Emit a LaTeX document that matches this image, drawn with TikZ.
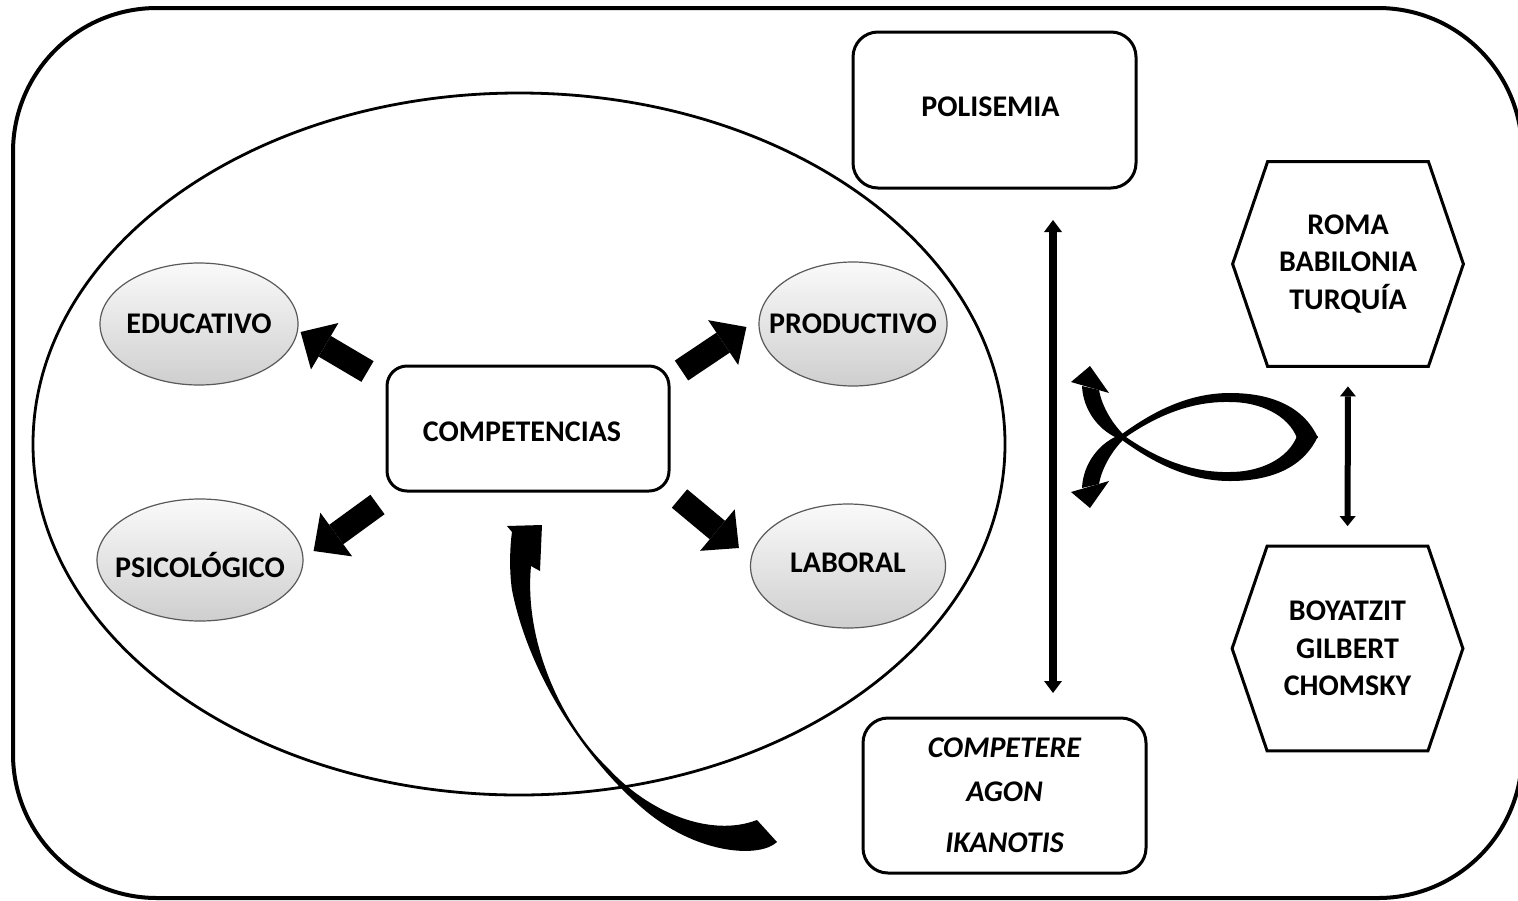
\documentclass[tikz,border=0pt]{standalone}
\usepackage{fontspec}
\setmainfont{Carlito}
\usetikzlibrary{arrows.meta,shapes.geometric,calc}

% one half of the crossed double arrow: upper head, arm, lower arc
\newcommand\fishstroke{%
  \fill (-38,-51) .. controls (-37,-27) and (-21,-5) .. (2,3)
    .. controls (35,27) and (70,44) .. (110,44)
    .. controls (155,44) and (185,28) .. (198,-1)
    -- (177,-1)
    .. controls (168,22) and (140,35) .. (110,35)
    .. controls (70,36) and (35,20) .. (6,0)
    .. controls (-7,-12) and (-18,-30) .. (-21,-47) -- cycle;
  \fill (-49,-55) -- (-30,-71) -- (-11,-44) -- cycle;
}
% label of zero width, so the bubble keeps its given size
\newcommand\bubbletext[1]{\makebox[0pt]{#1}}
% shift a label vertically without changing the size the node sees
\newcommand\nudge[2]{\raisebox{#1}[\height][\depth]{#2}}

\tikzset{
  lbl/.style={font=\bfseries\fontsize{15}{18.75}\selectfont, text=black},
  roundbox/.style={lbl, draw, line width=1.5pt, inner sep=0pt},
  bubble/.style={lbl, ellipse, draw=black!65, line width=0.6pt, inner sep=0pt,
                 top color=black!2, bottom color=black!19},
  hexcell/.style={lbl, align=center, inner sep=0pt, minimum width=115pt, minimum height=102pt},
  hexline/.style={line width=1.5pt, line join=miter},
  blockarrow/.style={line width=12pt, -{Triangle[width=27pt,length=14pt,line width=0pt]}},
  twoway/.style={line width=4pt,
     {Triangle[width=9pt,length=6pt,line width=0pt]}-{Triangle[width=9pt,length=6pt,line width=0pt]}},
  twowaysmall/.style={line width=3pt,
     {Triangle[width=8pt,length=5pt,line width=0pt]}-{Triangle[width=8pt,length=5pt,line width=0pt]}},
}

\begin{document}
\begin{tikzpicture}[x=0.5pt, y=-0.5pt]
  \useasboundingbox (0,0) rectangle (1518,900);
  \clip (0,0) rectangle (1518,900);
  \fill[white] (0,0) rectangle (1518,900);

  % outer frame
  \draw[line width=2pt, rounded corners=72pt] (13,8) rectangle (1522,898);

  % large field ellipse
  \draw[line width=1.4pt] (519,444) ellipse [x radius=243pt, y radius=175.5pt];

  % central box and the four domains
  \node[roundbox, rounded corners=10pt, minimum width=141pt, minimum height=62.5pt]
        (comp) at (528,428.5) {\hspace*{-6pt}\nudge{-1.5pt}{COMPETENCIAS}};
  \node[bubble, minimum width=99pt,  minimum height=61pt] (edu)  at (199,324) {\bubbletext{EDUCATIVO}};
  \node[bubble, minimum width=103pt, minimum height=61pt] (psi)  at (200,560) {\bubbletext{\nudge{-2.5pt}{PSICOLÓGICO}}};
  \node[bubble, minimum width=94pt,  minimum height=62pt] (prod) at (853,324) {\bubbletext{PRODUCTIVO}};
  \node[bubble, minimum width=97.5pt,minimum height=62pt] (lab)  at (848,566) {\bubbletext{\nudge{1.5pt}{LABORAL}}};

  \draw[blockarrow] ($(comp.north west)+(-18,7)$) -- ($(edu.east)+(2,8)$);
  \draw[blockarrow] ($(comp.north east)+(11,6)$)  -- ($(prod.west)+(-12,3)$);
  \draw[blockarrow] ($(comp.south west)+(-8,12)$) -- ($(psi.east)+(10,-9)$);
  \draw[blockarrow] ($(comp.south east)+(9,6)$)   -- ($(lab.west)+(-11,-18)$);

  % right column boxes
  \node[roundbox, rounded corners=12.5pt, minimum width=141.5pt, minimum height=78pt]
        (poli) at (994.5,110) {\hspace*{-4pt}\nudge{1.5pt}{POLISEMIA}};
  \node[roundbox, rounded corners=12.5pt, minimum width=141.5pt, minimum height=77.5pt,
        align=center, font=\bfseries\itshape\fontsize{15}{18.75}\selectfont]
        (orig) at (1004.5,795.5) {COMPETERE\\[3pt]AGON\\[7pt]IKANOTIS};

  \coordinate (pa) at (1053,220);
  \coordinate (pb) at (1053,693);
  \draw[twoway] (pa) -- (pb);

  % hexagons
  \node[hexcell] (roma) at (1348,264) {ROMA\\BABILONIA\\TURQUÍA};
  \node[hexcell] (boy)  at (1347.5,648.5) {BOYATZIT\\GILBERT\\CHOMSKY};
  \foreach \h in {roma,boy}{
    \draw[hexline] (\h.west) -- ([xshift=17.5pt]\h.north west) -- ([xshift=-17.5pt]\h.north east)
      -- (\h.east) -- ([xshift=-17.5pt]\h.south east) -- ([xshift=17.5pt]\h.south west) -- cycle;
  }
  \draw[twowaysmall, shorten <=10pt, shorten >=10pt] (roma.south) -- (boy.north);

  % crossed double arrow
  \begin{scope}[shift={(1120,437)}] \fishstroke \end{scope}
  \begin{scope}[shift={(1120,437)}, yscale=-1] \fishstroke \end{scope}

  % long curved arrow back to the centre
  \fill (507,526) -- (542,525) -- (540,571) -- (531,566)
    .. controls (524,640) and (560,722) .. (608,768)
    .. controls (648,812) and (710,838) .. (757,820)
    -- (777,842)
    .. controls (760,858) and (700,855) .. (647,812)
    .. controls (590,765) and (530,680) .. (512,590)
    .. controls (509,570) and (510,545) .. (512,532) -- cycle;
\end{tikzpicture}
\end{document}
